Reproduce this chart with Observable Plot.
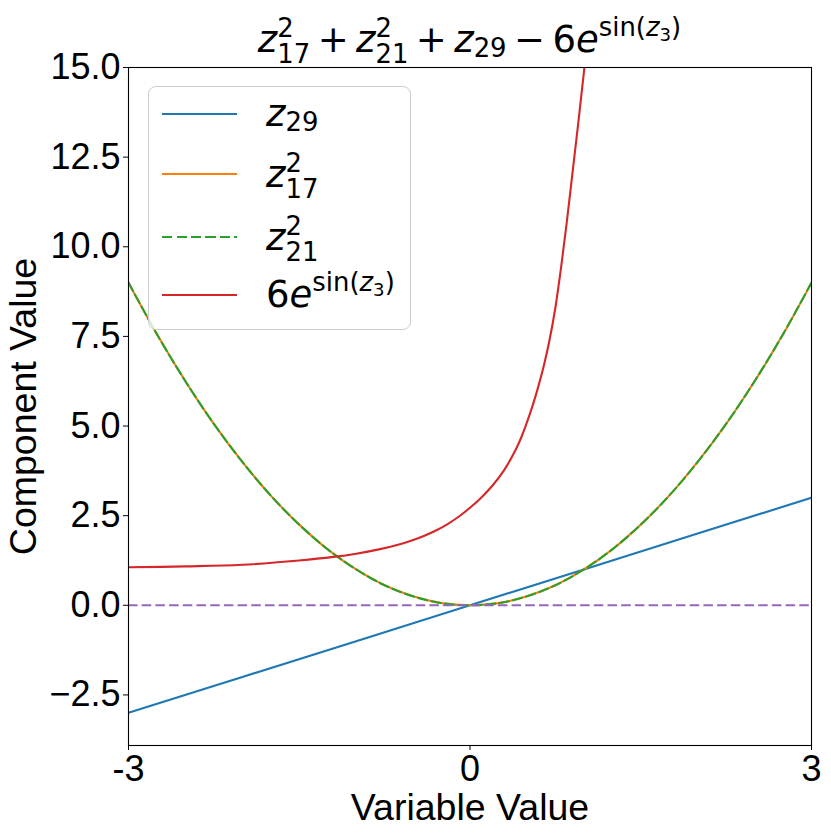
<!DOCTYPE html>
<html>
<head>
<meta charset="utf-8">
<script src="https://cdn.jsdelivr.net/npm/d3@7"></script>
<script src="https://cdn.jsdelivr.net/npm/@observablehq/plot@0.6"></script>
<style>
  body { margin: 0; background: #fff; }
  #wrap { position: relative; width: 831px; height: 836px; overflow: hidden; }
  .m { font-family: "DejaVu Sans", sans-serif; font-size: 37px; line-height: 0; white-space: nowrap; color: #000; }
  .m i { font-style: italic; }
  .m .op { margin: 0 0.2em; }
  .m .sb { font-size: 0.7em; position: relative; top: 0.21em; }
  .m .sp2 { font-size: 0.7em; position: relative; top: -0.57em; }
  .m .sb2 { font-size: 0.7em; position: relative; top: 0.43em; margin-left: -0.636em; }
  .m .ex { font-size: 0.7em; position: relative; top: -0.6em; }
  .m .ex .sb { font-size: 0.7em; top: 0.25em; }
  #title { position: absolute; left: 0; width: 939px; top: 40px; text-align: center; }
  #legend { position: absolute; left: 148px; top: 86px; width: 261px; height: 242px;
            border: 1px solid #cccccc; border-radius: 8px; background: rgba(255,255,255,0.8); }
  .row { position: absolute; left: 0; width: 100%; height: 0; }
  .sample { position: absolute; left: 13px; width: 75px; height: 2px; top: -1px; }
  .lab { position: absolute; left: 117px; top: 0; }
</style>
</head>
<body>
<div id="wrap">
  <div id="chart"></div>
  <div id="title" class="m"><i>z</i><span class="sp2">2</span><span class="sb2">17</span><span class="op">+</span><i>z</i><span class="sp2">2</span><span class="sb2">21</span><span class="op">+</span><i>z</i><span class="sb">29</span><span class="op">−</span>6<i>e</i><span class="ex">sin(<i>z</i><span class="sb">3</span>)</span></div>
  <div id="legend"></div>
</div>
<script>
// ---- data ----
const xTicks = [-3, 0, 3];
const yTicks = [-2.5, 0, 2.5, 5, 7.5, 10, 12.5, 15];

const xLin = [-3, -2, -1, 0, 1, 2, 3];
const z29 = [-3, -2, -1, 0, 1, 2, 3];

const xSq = [-3, -2.75, -2.5, -2.25, -2, -1.75, -1.5, -1.25, -1, -0.75, -0.5, -0.25, 0,
             0.25, 0.5, 0.75, 1, 1.25, 1.5, 1.75, 2, 2.25, 2.5, 2.75, 3];
const z17sq = [9, 7.56, 6.25, 5.06, 4, 3.06, 2.25, 1.56, 1, 0.56, 0.25, 0.06, 0,
               0.06, 0.25, 0.56, 1, 1.56, 2.25, 3.06, 4, 5.06, 6.25, 7.56, 9];
const z21sq = [9, 7.56, 6.25, 5.06, 4, 3.06, 2.25, 1.56, 1, 0.56, 0.25, 0.06, 0,
               0.06, 0.25, 0.56, 1, 1.56, 2.25, 3.06, 4, 5.06, 6.25, 7.56, 9];

const xRed = [-3, -2.5, -2, -1.5, -1.2, -1, -0.8, -0.6, -0.5, -0.4, -0.3, -0.2, -0.1, 0,
              0.1, 0.2, 0.3, 0.4, 0.45, 0.5, 0.55, 0.6, 0.65, 0.7, 0.75, 0.8, 0.85, 0.9,
              0.95, 1.0, 1.05, 1.1];
const expSin = [1.06, 1.085, 1.13, 1.25, 1.35, 1.44, 1.56, 1.72, 1.82, 1.94, 2.085, 2.26, 2.47, 2.72,
                3.01, 3.35, 3.77, 4.33, 4.68, 5.1, 5.57, 6.1, 6.7, 7.42, 8.3, 9.42, 10.68, 12.05,
                13.42, 14.85, 16.3, 17.8];

const zeroLine = [0];

const colors = {z29: "#1f77b4", z17sq: "#ff7f0e", z21sq: "#2ca02c", exp: "#d62728", zero: "#9467bd"};

// ---- tables ----
const tLin = xLin.map((x, i) => ({x, y: z29[i]}));
const tSq17 = xSq.map((x, i) => ({x, y: z17sq[i]}));
const tSq21 = xSq.map((x, i) => ({x, y: z21sq[i]}));
const tRed = xRed.map((x, i) => ({x, y: expSin[i]}));

const W = 2.1;
const DASH = "9.5,4.2";
const chart = Plot.plot({
  width: 831,
  height: 836,
  marginLeft: 128,
  marginRight: 20,
  marginTop: 67,
  marginBottom: 91,
  x: {domain: [-3, 3]},
  y: {domain: [-3.91, 15]},
  style: {fontFamily: '"Liberation Sans", Arial, sans-serif', fontSize: "36px", color: "#000", background: "#fff", overflow: "visible"},
  marks: [
    Plot.line(tLin, {x: "x", y: "y", stroke: colors.z29, strokeWidth: W, clip: true}),
    Plot.line(tSq17, {x: "x", y: "y", stroke: colors.z17sq, strokeWidth: W, curve: "catmull-rom", clip: true}),
    Plot.line(tSq21, {x: "x", y: "y", stroke: colors.z21sq, strokeWidth: W, curve: "catmull-rom", strokeDasharray: DASH, clip: true}),
    Plot.line(tRed, {x: "x", y: "y", stroke: colors.exp, strokeWidth: W, curve: "catmull-rom", clip: true}),
    Plot.ruleY(zeroLine, {stroke: colors.zero, strokeWidth: W, strokeDasharray: DASH}),
    Plot.frame({stroke: "#000", strokeWidth: 1.1}),
    Plot.axisX({ticks: xTicks, tickFormat: d => (d < 0 ? "-" : "") + Math.abs(d), tickSize: 5, tickPadding: 5, label: null, fontSize: 36}),
    Plot.axisY({ticks: yTicks, tickFormat: d => (d < 0 ? "−" : "") + Math.abs(d).toFixed(1), tickSize: 5, tickPadding: 3, label: null, fontSize: 36}),
    Plot.text(["Variable Value"], {frameAnchor: "bottom", dy: 62, textAnchor: "middle", lineAnchor: "middle", fontSize: 37.5}),
    Plot.text(["Component Value"], {frameAnchor: "left", dx: -105, rotate: -90, textAnchor: "middle", lineAnchor: "middle", fontSize: 37.5})
  ]
});
document.getElementById("chart").appendChild(chart);

// ---- legend ----
const legendRows = [
  {key: "z29", lineY: 113.5, dash: false, html: '<i>z</i><span class="sb">29</span>'},
  {key: "z17sq", lineY: 174.3, dash: false, html: '<i>z</i><span class="sp2">2</span><span class="sb2">17</span>'},
  {key: "z21sq", lineY: 237.3, dash: true, html: '<i>z</i><span class="sp2">2</span><span class="sb2">21</span>'},
  {key: "exp", lineY: 294.5, dash: false, html: '6<i>e</i><span class="ex">sin(<i>z</i><span class="sb">3</span>)</span>'}
];
const leg = d3.select("#legend");
const legTop = 87;
legendRows.forEach(r => {
  const row = leg.append("div").attr("class", "row").style("top", (r.lineY - legTop) + "px");
  const s = row.append("div").attr("class", "sample");
  if (r.dash) {
    s.style("background", `repeating-linear-gradient(to right, ${colors[r.key]} 0 10px, transparent 10px 14.5px)`);
  } else {
    s.style("background", colors[r.key]);
  }
  row.append("div").attr("class", "lab m").style("top", "0.5px").html(r.html);
});
</script>
</body>
</html>
